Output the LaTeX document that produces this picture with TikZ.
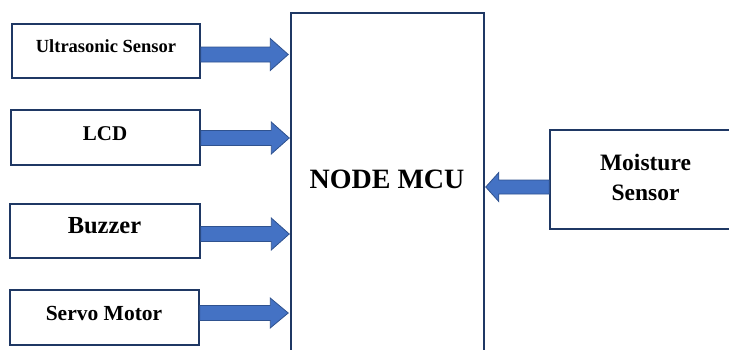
\documentclass[tikz,border=0pt]{standalone}
\usepackage{fontspec}
\setmainfont{Liberation Serif}
\usetikzlibrary{calc}
\definecolor{boxline}{RGB}{31,56,100}
\definecolor{arrfill}{RGB}{68,114,196}
\definecolor{arrline}{RGB}{47,82,143}
\tikzset{
  blk/.style={draw=boxline, line width=1.5pt, fill=white, rectangle, inner sep=0pt},
  barrow/.style={fill=arrfill, draw=arrline, line width=0.8pt, line join=miter},
  lbl/.style={anchor=base, inner sep=0pt, font=\bfseries}
}
% #1 start, #2 tip, #3 signed head length, #4 shaft half, #5 head half
\newcommand\blockarrow[5]{%
  \filldraw[barrow] ($(#1)+(0,#4)$) -- ($(#2)+(#3,#4)$) -- ($(#2)+(#3,#5)$) -- (#2)
    -- ($(#2)+(#3,-#5)$) -- ($(#2)+(#3,-#4)$) -- ($(#1)+(0,-#4)$) -- cycle;}
\begin{document}
\begin{tikzpicture}[x=1pt,y=-1pt]
\useasboundingbox (0,0) rectangle (729,349);
\clip (0,0) rectangle (729,349);
% boxes
\node[blk, minimum width=188pt, minimum height=54pt] (us) at (106,51) {};
\node[blk, minimum width=189pt, minimum height=55pt] (lcd) at (105.5,137.5) {};
\node[blk, minimum width=190pt, minimum height=54pt] (buz) at (105,231) {};
\node[blk, minimum width=189pt, minimum height=55pt] (servo) at (104.5,317.5) {};
\node[blk, minimum width=193pt, minimum height=350pt] (mcu) at (387.5,188) {};
\node[blk, minimum width=190pt, minimum height=99pt] (moist) at (645,179.5) {};
% labels
\node[lbl, font=\bfseries\fontsize{18.5}{20}\selectfont] (tus) at (106,52) {Ultrasonic Sensor};
\node[lbl, font=\bfseries\fontsize{21}{23}\selectfont] (tlcd) at (105,140) {LCD};
\node[lbl, font=\bfseries\fontsize{24.5}{26}\selectfont] (tbuz) at (104.5,233) {Buzzer};
\node[lbl, font=\bfseries\fontsize{21.5}{23}\selectfont] (tservo) at (104,320) {Servo Motor};
\node[lbl, font=\bfseries\fontsize{28}{30}\selectfont] (tmcu) at (387,188) {NODE MCU};
\node[lbl, font=\bfseries\fontsize{23.5}{25}\selectfont] (tm1) at (645.5,170) {Moisture};
\node[lbl, font=\bfseries\fontsize{23.5}{25}\selectfont] (tm2) at (645.5,200) {Sensor};
% arrow anchor levels
\coordinate (y1) at (0,54.5);
\coordinate (y2) at (0,138);
\coordinate (y3) at (0,234);
\coordinate (y4) at (0,313);
\coordinate (y5) at (0,187);
\blockarrow{us.east |- y1}{$(mcu.west |- y1)+(-2,0)$}{-18}{7.5}{16}
\blockarrow{lcd.east |- y2}{$(mcu.west |- y2)+(-1,0)$}{-18}{7.5}{16}
\blockarrow{buz.east |- y3}{$(mcu.west |- y3)+(-1,0)$}{-18}{7.5}{16}
\blockarrow{servo.east |- y4}{$(mcu.west |- y4)+(-2,0)$}{-18}{7.5}{15}
\blockarrow{moist.west |- y5}{$(mcu.east |- y5)+(1,0)$}{13}{7}{14.5}
\end{tikzpicture}
\end{document}
